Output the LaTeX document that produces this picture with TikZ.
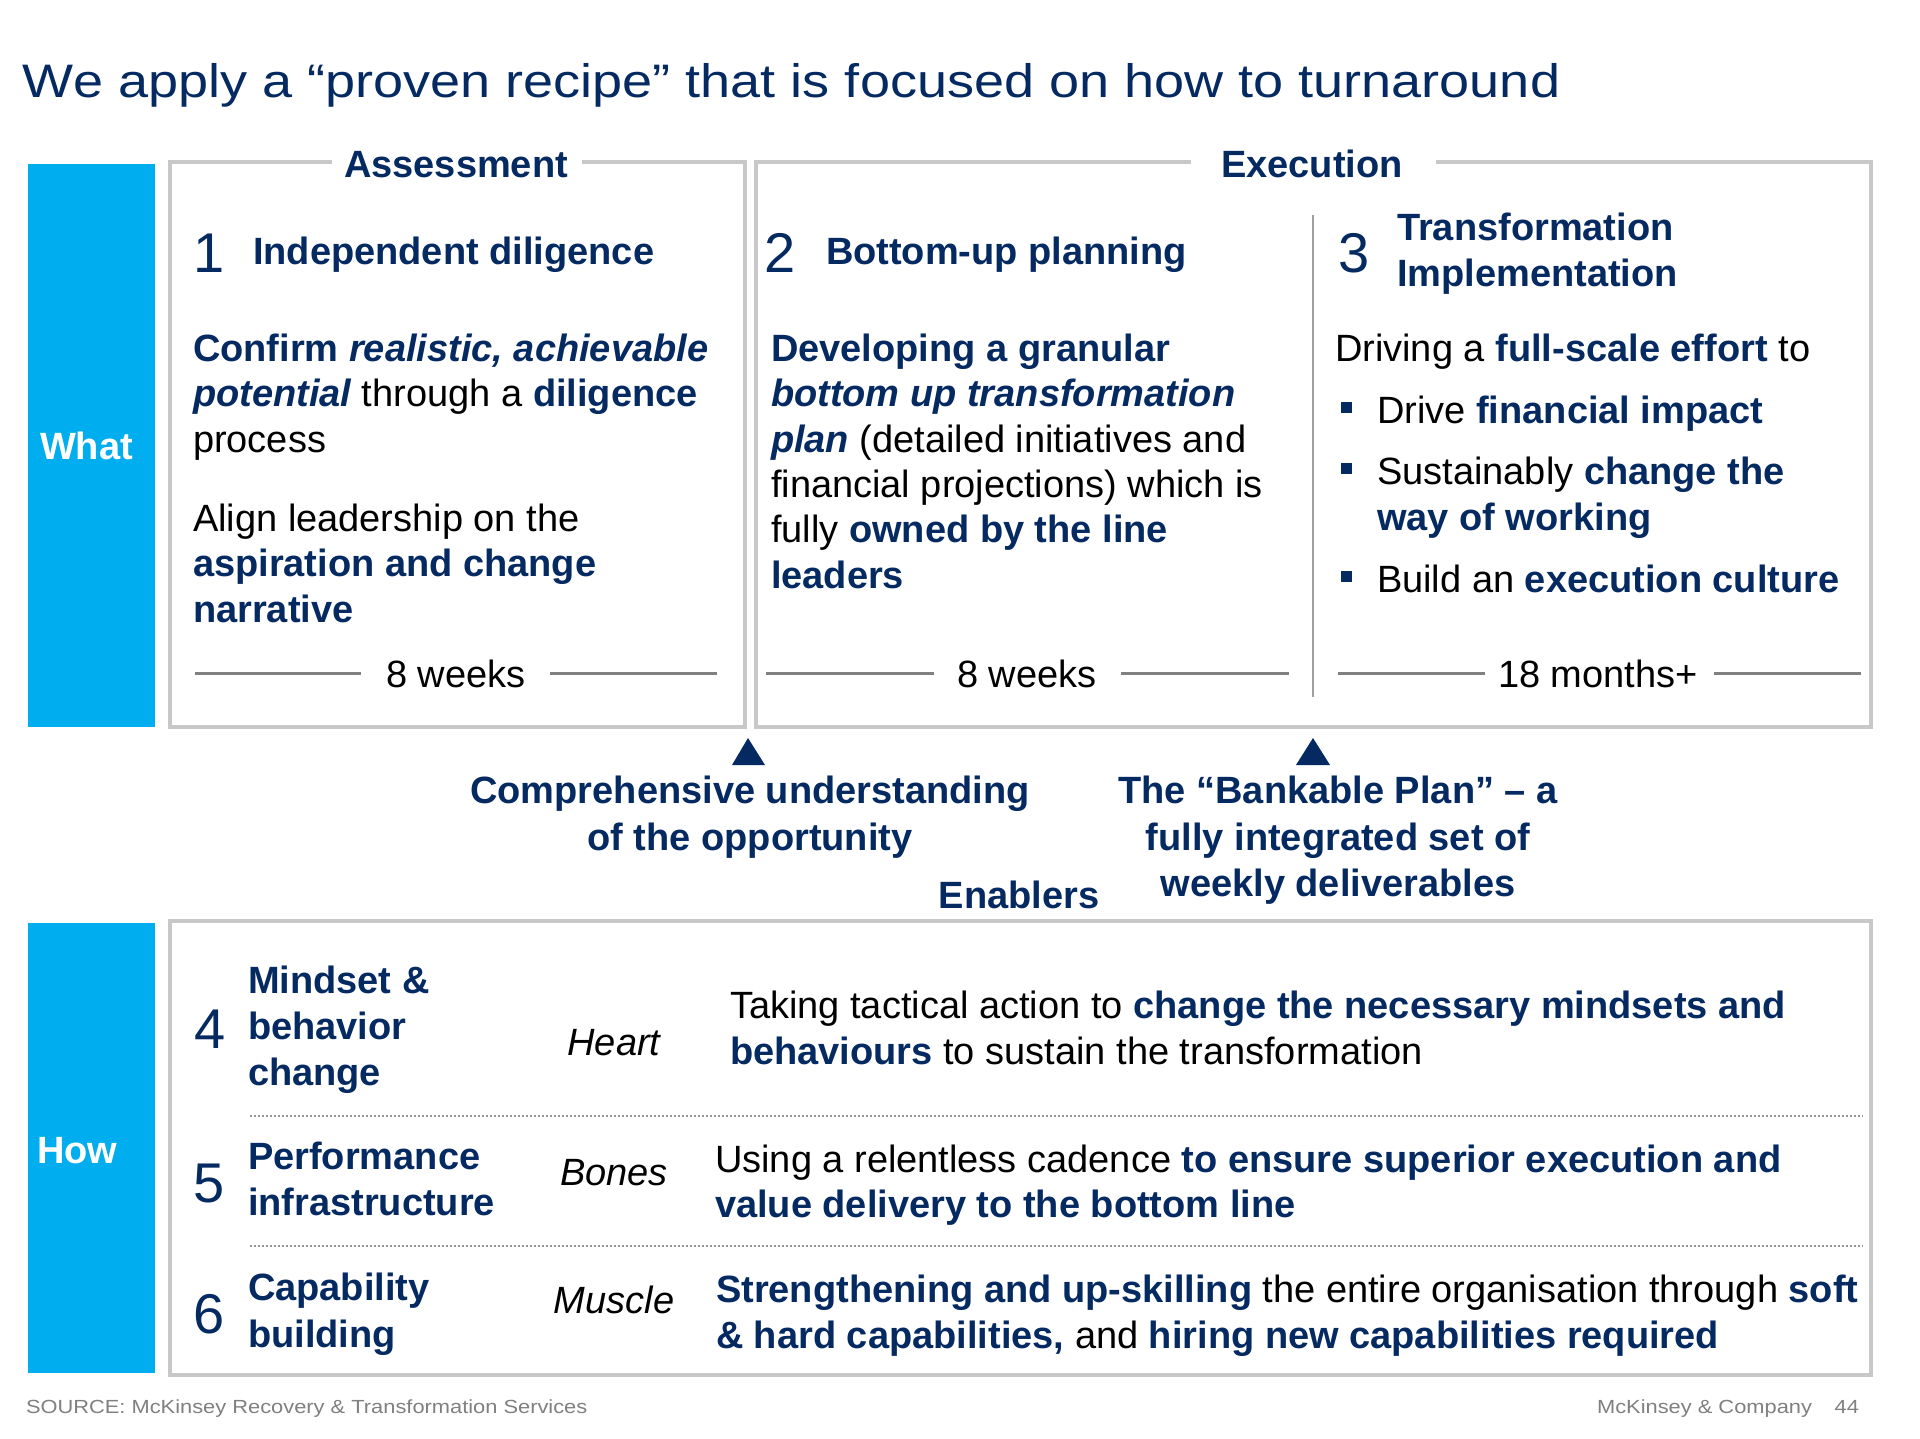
\documentclass[tikz,border=0pt]{standalone}
\usepackage{fontspec}
\setmainfont{Liberation Sans}
\newfontfamily\wideface[FakeStretch=1.15]{Liberation Sans}
\definecolor{navy}{RGB}{5,42,98}
\definecolor{cyanbar}{RGB}{0,174,239}
\definecolor{framegray}{RGB}{200,200,200}
\definecolor{tlgray}{RGB}{128,128,128}
\definecolor{divgray}{RGB}{160,160,160}
\definecolor{dotgray}{RGB}{150,150,150}
\definecolor{footgray}{RGB}{128,128,128}
\newcommand\bodysize{\fontsize{38}{45.5}\selectfont}
\newcommand\numsize{\fontsize{56}{60}\selectfont}
\newcommand\navb[1]{{\color{navy}\bfseries #1}}
\newcommand\navbi[1]{{\color{navy}\bfseries\itshape #1}}
\tikzset{
  every node/.style={inner sep=0pt, outer sep=0pt},
  txt/.style={anchor=base west, font=\bodysize, text=black},
  head/.style={anchor=base west, font=\bodysize\bfseries, text=navy},
  chead/.style={anchor=base, font=\bodysize\bfseries, text=navy},
  ctxt/.style={anchor=base, font=\bodysize, text=black},
  num/.style={anchor=base west, font=\numsize, text=navy},
  role/.style={anchor=base, font=\bodysize\itshape, text=black},
  frame/.style={draw=framegray, line width=4pt},
  tl/.style={draw=tlgray, line width=3pt},
  sep/.style={draw=dotgray, line width=2pt, dash pattern=on 2pt off 2pt},
  bullet/.style={fill=navy, minimum size=11pt, anchor=north west},
  sidebar/.style={fill=cyanbar, anchor=north west},
  sidelabel/.style={anchor=base west, font=\bodysize\bfseries, text=white},
  marker/.style={fill=navy},
}
\begin{document}
\begin{tikzpicture}[x=1pt,y=-1pt]
\path[use as bounding box, fill=white] (0,0) rectangle (1920,1439);

% title
\node[anchor=base west, font=\wideface\fontsize{47}{56}\selectfont, text=navy] (title) at (23,98)
  {We apply a “proven recipe” that is focused on how to turnaround};

% side bars
\node[sidebar, minimum width=127pt, minimum height=563pt] (whatbar) at (28,164) {};
\node[sidebar, minimum width=127pt, minimum height=450pt] (howbar) at (28,923) {};
\node[sidelabel] (what) at (40,459) {What};
\node[sidelabel] (how) at (37,1163) {How};

% phase frames
\draw[frame] (582,162) -| (745,727) -| (170,162) -- (332,162);
\draw[frame] (1436,162) -| (1871,727) -| (756,162) -- (1191,162);
\node[chead] (assess) at (456,178) {Assessment};
\node[chead] (exec) at (1312,178) {Execution};
\draw[draw=divgray, line width=2pt] (1313,215) -- (1313,697);

% column 1
\node[num] (n1) at (193,273) {1};
\node[head] (h1) at (253,265) {Independent diligence};
\node[txt] (c1a) at (193,361) {\navb{Confirm \itshape realistic, achievable}};
\node[txt] (c1b) at (193,406) {\navbi{potential} through a \navb{diligence}};
\node[txt] (c1c) at (193,452) {process};
\node[txt] (c1d) at (193,531) {Align leadership on the};
\node[txt] (c1e) at (193,576) {\navb{aspiration and change}};
\node[txt] (c1f) at (193,622) {\navb{narrative}};
\node[ctxt] (w1) at (456,687) {8 weeks};
\draw[tl] (195,673) -- (361,673);
\draw[tl] (550,673) -- (717,673);

% column 2
\node[num] (n2) at (764,273) {2};
\node[head] (h2) at (826,265) {Bottom-up planning};
\node[txt] (c2a) at (771,361) {\navb{Developing a granular}};
\node[txt] (c2b) at (771,406) {\navbi{bottom up transformation}};
\node[txt] (c2c) at (771,452) {\navbi{plan} (detailed initiatives and};
\node[txt] (c2d) at (771,497) {financial projections) which is};
\node[txt] (c2e) at (771,542) {fully \navb{owned by the line}};
\node[txt] (c2f) at (771,588) {\navb{leaders}};
\node[ctxt] (w2) at (1027,687) {8 weeks};
\draw[tl] (766,673) -- (934,673);
\draw[tl] (1121,673) -- (1289,673);

% column 3
\node[num] (n3) at (1338,273) {3};
\node[head] (h3a) at (1397,241) {Transformation};
\node[head] (h3b) at (1397,287) {Implementation};
\node[txt] (c3a) at (1335,361) {Driving a \navb{full-scale effort} to};
\node[bullet] (b1) at (1341,402) {};
\node[txt] (c3b) at (1377,423) {Drive \navb{financial impact}};
\node[bullet] (b2) at (1341,463) {};
\node[txt] (c3c) at (1377,484) {Sustainably \navb{change the}};
\node[txt] (c3d) at (1377,530) {\navb{way of working}};
\node[bullet] (b3) at (1341,571) {};
\node[txt] (c3e) at (1377,592) {Build an \navb{execution culture}};
\node[ctxt] (w3) at (1598,687) {18 months+};
\draw[tl] (1338,673) -- (1485,673);
\draw[tl] (1714,673) -- (1861,673);

% milestones
\fill[marker] (748,738) -- (765,765) -- (732,765) -- cycle;
\fill[marker] (1313,738) -- (1330,765) -- (1296,765) -- cycle;
\node[chead] (m1a) at (750,803) {Comprehensive understanding};
\node[chead] (m1b) at (750,850) {of the opportunity};
\node[chead] (m2a) at (1338,803) {The “Bankable Plan” – a};
\node[chead] (m2b) at (1338,850) {fully integrated set of};
\node[chead] (m2c) at (1338,896) {weekly deliverables};

% enablers
\node[chead] (enab) at (1019,908) {Enablers};
\draw[frame] (170,921) rectangle (1871,1375);

\node[num] (n4) at (194,1048) {4};
\node[head] (e4a) at (248,993) {Mindset \&};
\node[head] (e4b) at (248,1039) {behavior};
\node[head] (e4c) at (248,1085) {change};
\node[role] (r4) at (614,1055) {Heart};
\node[txt] (d4a) at (730,1018) {Taking tactical action to \navb{change the necessary mindsets and}};
\node[txt] (d4b) at (730,1064) {\navb{behaviours} to sustain the transformation};
\draw[sep] (250,1116) -- (1863,1116);

\node[num] (n5) at (193,1202) {5};
\node[head] (e5a) at (248,1169) {Performance};
\node[head] (e5b) at (248,1215) {infrastructure};
\node[role] (r5) at (614,1185) {Bones};
\node[txt] (d5a) at (715,1172) {Using a relentless cadence \navb{to ensure superior execution and}};
\node[txt] (d5b) at (715,1217) {\navb{value delivery to the bottom line}};
\draw[sep] (250,1246) -- (1863,1246);

\node[num] (n6) at (193,1333) {6};
\node[head] (e6a) at (248,1300) {Capability};
\node[head] (e6b) at (248,1347) {building};
\node[role] (r6) at (614,1313) {Muscle};
\node[txt] (d6a) at (716,1302) {\navb{Strengthening and up-skilling} the entire organisation through \navb{soft}};
\node[txt] (d6b) at (716,1348) {\navb{\& hard capabilities,} and \navb{hiring new capabilities required}};

% footer
\node[anchor=base west, font=\wideface\fontsize{19}{22}\selectfont, text=footgray] (src) at (26,1413)
  {SOURCE: McKinsey Recovery \& Transformation Services};
\node[anchor=base east, font=\wideface\fontsize{19}{22}\selectfont, text=footgray] (page) at (1859,1413) {44};
\node[anchor=base east, font=\wideface\fontsize{19}{22}\selectfont, text=footgray] (firm) at (1812,1413) {McKinsey \& Company};
\end{tikzpicture}
\end{document}
